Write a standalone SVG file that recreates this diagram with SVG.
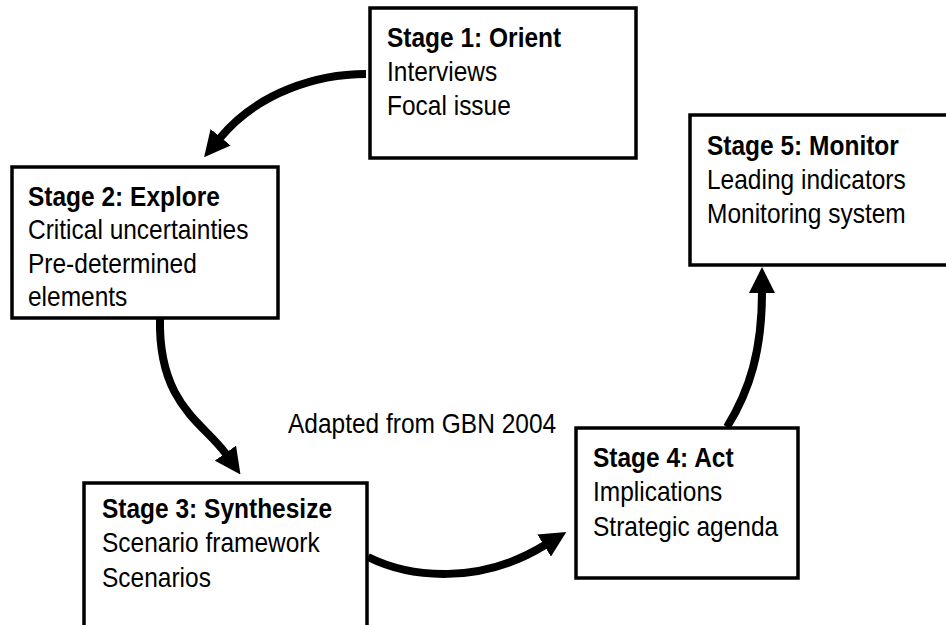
<svg xmlns="http://www.w3.org/2000/svg" width="946" height="625" viewBox="0 0 946 625">
<defs>
<marker id="ah" viewBox="0 0 26 26" refX="1" refY="13" markerWidth="26" markerHeight="26" markerUnits="userSpaceOnUse" orient="auto">
<path d="M0,0 L26,13 L0,26 z" fill="#000"/>
</marker>
</defs>
<style>
.box{fill:#fff;stroke:#000;stroke-width:3.5}
.t{font-family:"Liberation Sans",Arial,sans-serif;font-size:24.5px;fill:#000}
.b{font-weight:bold}
.arr{fill:none;stroke:#000;stroke-width:8;marker-end:url(#ah)}
</style>
<rect width="946" height="625" fill="#fff"/>
<g id="connectors">
<path class="arr" d="M366,74 C318,74 258,92 220,138"/>
<path class="arr" d="M160,318 C158,405 204,423 226,454"/>
<path class="arr" d="M368,557 C410,578 480,585 545,545"/>
<path class="arr" d="M727,427 C750,390 762,350 762,292"/>
</g>
<g id="stage1">
<rect class="box" x="370" y="8" width="266" height="150"/>
<text class="t" transform="translate(387,46.5) scale(1,1.12)"><tspan class="b" x="0" y="0">Stage 1: Orient</tspan><tspan x="0" dy="30.8">Interviews</tspan><tspan x="0" dy="30.8">Focal issue</tspan></text>
</g>
<g id="stage2">
<rect class="box" x="12" y="167" width="266" height="151"/>
<text class="t" transform="translate(28,206) scale(1,1.12)"><tspan class="b" x="0" y="0">Stage 2: Explore</tspan><tspan x="0" dy="29.9">Critical uncertainties</tspan><tspan x="0" dy="29.9">Pre-determined</tspan><tspan x="0" dy="29.9">elements</tspan></text>
</g>
<g id="stage3">
<rect class="box" x="84" y="483" width="283" height="200"/>
<text class="t" transform="translate(102,518) scale(1,1.12)"><tspan class="b" x="0" y="0">Stage 3: Synthesize</tspan><tspan x="0" dy="30.8">Scenario framework</tspan><tspan x="0" dy="30.8">Scenarios</tspan></text>
</g>
<g id="stage4">
<rect class="box" x="576" y="428" width="222" height="150"/>
<text class="t" transform="translate(593,467) scale(1,1.12)"><tspan class="b" x="0" y="0">Stage 4: Act</tspan><tspan x="0" dy="30.8">Implications</tspan><tspan x="0" dy="30.8">Strategic agenda</tspan></text>
</g>
<g id="stage5">
<rect class="box" x="690" y="115" width="280" height="150"/>
<text class="t" transform="translate(707,155) scale(1,1.12)"><tspan class="b" x="0" y="0">Stage 5: Monitor</tspan><tspan x="0" dy="30.4">Leading indicators</tspan><tspan x="0" dy="30.4">Monitoring system</tspan></text>
</g>
<g id="caption">
<text class="t" transform="translate(288,433) scale(1,1.12)">Adapted from GBN 2004</text>
</g>
</svg>
